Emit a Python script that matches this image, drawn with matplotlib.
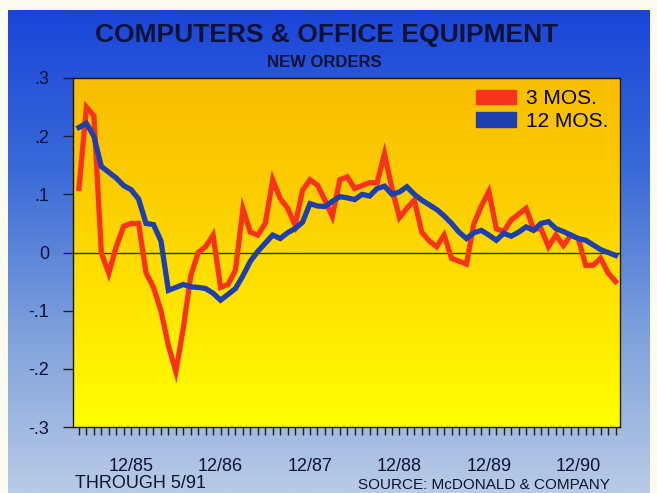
import matplotlib
matplotlib.use("Agg")
import matplotlib.pyplot as plt
import matplotlib.patches as mpatches
from matplotlib.colors import LinearSegmentedColormap
import numpy as np

plt.rcParams["font.family"] = ["Liberation Sans", "DejaVu Sans"]

# Monthly growth rates, 5/85 through 5/91
three_mos = [0.11, 0.25, 0.235, 0.00, -0.036, 0.01, 0.045, 0.05, 0.05, -0.035,
             -0.06, -0.10, -0.16, -0.205, -0.13, -0.04, 0.0, 0.01, 0.03, -0.06,
             -0.055, -0.03, 0.075, 0.035, 0.03, 0.05, 0.125, 0.093, 0.076, 0.047,
             0.107, 0.125, 0.116, 0.09, 0.062, 0.125, 0.13, 0.11, 0.115, 0.12,
             0.12, 0.17, 0.11, 0.06, 0.076, 0.09, 0.035, 0.02, 0.01, 0.03,
             -0.01, -0.015, -0.02, 0.05, 0.08, 0.105, 0.041, 0.036, 0.056, 0.066,
             0.076, 0.04, 0.041, 0.01, 0.03, 0.012, 0.03, 0.024, -0.022, -0.022,
             -0.01, -0.035, -0.05]
twelve_mos = [0.215, 0.222, 0.20, 0.148, 0.138, 0.128, 0.115, 0.108, 0.092, 0.05,
              0.048, 0.02, -0.065, -0.06, -0.055, -0.059, -0.06, -0.062, -0.07, -0.082,
              -0.072, -0.062, -0.04, -0.015, 0.002, 0.016, 0.03, 0.024, 0.034, 0.041,
              0.052, 0.084, 0.08, 0.079, 0.088, 0.096, 0.094, 0.091, 0.10, 0.097,
              0.11, 0.114, 0.10, 0.104, 0.113, 0.10, 0.09, 0.082, 0.074, 0.063,
              0.05, 0.035, 0.024, 0.034, 0.038, 0.03, 0.021, 0.033, 0.028, 0.035,
              0.044, 0.038, 0.05, 0.053, 0.041, 0.036, 0.03, 0.024, 0.021, 0.013,
              0.005, 0.0, -0.005]
label_months = [7, 19, 31, 43, 55, 67]
label_text = ["12/85", "12/86", "12/87", "12/88", "12/89", "12/90"]
y_ticks = [0.3, 0.2, 0.1, 0.0, -0.1, -0.2, -0.3]
y_text = [".3", ".2", ".1", "0", "-.1", "-.2", "-.3"]

RED = "#f7331c"
BLUE = "#1e3fae"
NAVY = "#0c1236"

months = np.arange(len(three_mos))

fig = plt.figure(figsize=(6.57, 4.93), dpi=100, facecolor="#fbfbef")

# blue backing panel
W, H = 657, 493
panel = fig.add_axes([8 / W, 0, 642 / W, 483 / H], zorder=0)
panel_cmap = LinearSegmentedColormap.from_list(
    "panel", ["#1b45da", "#3a6ad8", "#7ea0dc", "#b9cbe6"])
panel.imshow(np.linspace(0, 1, 256).reshape(-1, 1), cmap=panel_cmap,
             aspect="auto", extent=[0, 1, 0, 1])
panel.set_axis_off()

ax = fig.add_axes([73 / W, 66 / H, 547 / W, 349 / H], zorder=1)
x0, x1 = -0.8, 72.6

# orange at the top fading to yellow at the bottom
plot_cmap = LinearSegmentedColormap.from_list(
    "plot", ["#f8bd00", "#fcce00", "#ffe600", "#ffff00"])
ax.imshow(np.linspace(0, 1, 256).reshape(-1, 1), cmap=plot_cmap,
          aspect="auto", extent=[x0, x1, -0.3, 0.3], zorder=0)
ax.set_xlim(x0, x1)
ax.set_ylim(-0.3, 0.3)

ax.axhline(0, color="#3a2a10", lw=1.0, zorder=1)
ax.plot(months, three_mos, color=RED, lw=3.8, solid_joinstyle="miter", zorder=2)
ax.plot(months, twelve_mos, color=BLUE, lw=3.8, solid_joinstyle="miter", zorder=3)

for s in ax.spines.values():
    s.set_color("#201810")
    s.set_linewidth(1.0)

ax.set_yticks(y_ticks)
ax.set_yticklabels(y_text, fontsize=13, color=NAVY)
ax.tick_params(axis="y", length=7, width=1, color="#202020", pad=10)

ax.set_xticks(months, minor=True)
ax.set_xticks(label_months)
ax.set_xticklabels(label_text, fontsize=13, color=NAVY)
ax.tick_params(axis="x", which="both", length=6, width=1, color="#202020",
               direction="out", pad=16)

handles = [mpatches.Patch(color=RED, label="3 MOS."),
           mpatches.Patch(color=BLUE, label="12 MOS.")]
leg = ax.legend(handles=handles, loc="upper right", fontsize=15, frameon=False,
                handlelength=1.9, handleheight=0.7, handletextpad=0.5,
                labelspacing=0.15, borderaxespad=0.15)
for t in leg.get_texts():
    t.set_color("#000000")

fig.text(0.497, 0.928, "COMPUTERS & OFFICE EQUIPMENT", ha="center", va="center",
         fontsize=19, fontweight="bold", color=NAVY)
fig.text(0.493, 0.874, "NEW ORDERS", ha="center", va="center",
         fontsize=12, fontweight="bold", color=NAVY)
fig.text(75 / W, 1 - 483 / H, "THROUGH 5/91", ha="left", va="center",
         fontsize=13, color=NAVY)
fig.text(610 / W, 1 - 485 / H, "SOURCE: McDONALD & COMPANY", ha="right",
         va="center", fontsize=11, color=NAVY)

fig.savefig("out.png", dpi=100, facecolor=fig.get_facecolor())
